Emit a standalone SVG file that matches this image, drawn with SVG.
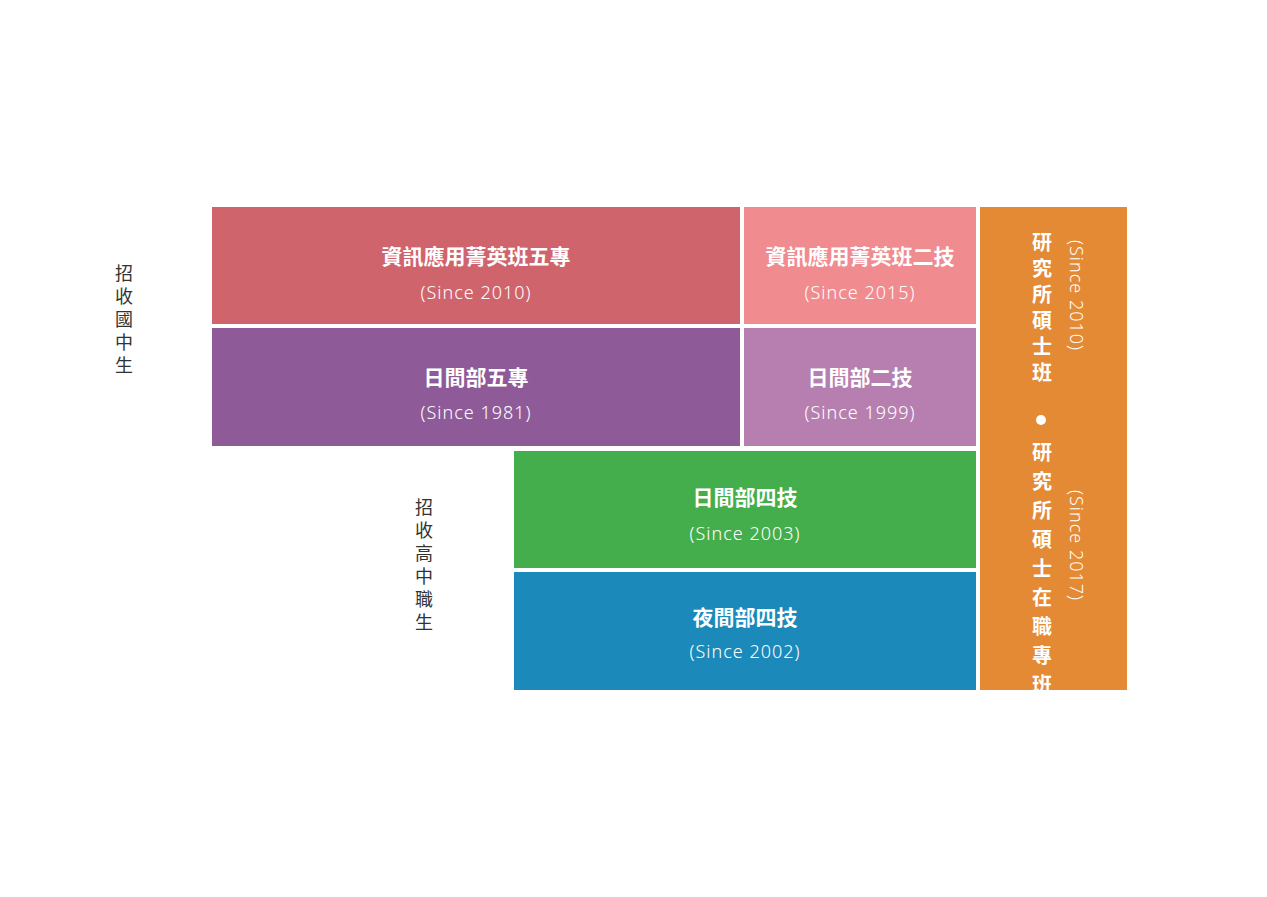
<svg xmlns="http://www.w3.org/2000/svg" width="1267" height="897" viewBox="0 0 1267 897">
<style>
.t{font-family:"Noto Sans CJK TC","Noto Sans",sans-serif;font-weight:700;font-size:21px;fill:#fff;text-anchor:middle}
.s{font-family:"Noto Sans","Noto Sans CJK TC",sans-serif;font-weight:300;font-size:18px;fill:#fff;text-anchor:middle;letter-spacing:1px}
.v{font-family:"Noto Sans CJK TC",sans-serif;font-size:18px;fill:#333;writing-mode:vertical-rl;letter-spacing:5px}
.vt{font-family:"Noto Sans CJK TC",sans-serif;font-weight:700;font-size:20px;fill:#fff;writing-mode:vertical-rl}
.vs{font-family:"Noto Sans","Noto Sans CJK TC",sans-serif;font-weight:300;font-size:18px;fill:#fff;writing-mode:vertical-rl;letter-spacing:1px}
</style>
<rect width="1267" height="897" fill="#fff"/>
<g id="label-junior"><text class="v" x="124" y="264">招收國中生</text></g>
<g id="label-senior"><text class="v" x="424" y="498">招收高中職生</text></g>
<g id="n1"><rect x="212" y="207" width="528" height="117" fill="#d0646d"/><text class="t" x="476" y="264">資訊應用菁英班五專</text><text class="s" x="476" y="299">(Since 2010)</text></g>
<g id="n2"><rect x="744" y="207" width="232" height="117" fill="#f08b8f"/><text class="t" x="860" y="264">資訊應用菁英班二技</text><text class="s" x="860" y="299">(Since 2015)</text></g>
<g id="n3"><rect x="212" y="328" width="528" height="118" fill="#8e5b98"/><text class="t" x="476" y="385">日間部五專</text><text class="s" x="476" y="419">(Since 1981)</text></g>
<g id="n4"><rect x="744" y="328" width="232" height="118" fill="#b77fb0"/><text class="t" x="860" y="385">日間部二技</text><text class="s" x="860" y="419">(Since 1999)</text></g>
<g id="n5"><rect x="514" y="451" width="462" height="117" fill="#45ae4c"/><text class="t" x="745" y="505">日間部四技</text><text class="s" x="745" y="540">(Since 2003)</text></g>
<g id="n6"><rect x="514" y="572" width="462" height="118" fill="#1b8aba"/><text class="t" x="745" y="625">夜間部四技</text><text class="s" x="745" y="658">(Since 2002)</text></g>
<g id="n7"><rect x="980" y="207" width="147" height="483" fill="#e48a34"/>
<text class="vt" x="1042" y="232" style="letter-spacing:6px">研究所碩士班</text>
<circle cx="1041" cy="420" r="5" fill="#fff"/>
<text class="vt" x="1042" y="442" style="letter-spacing:9px">研究所碩士在職專班</text>
<text class="vs" x="1077" y="240">(Since 2010)</text>
<text class="vs" x="1077" y="490">(Since 2017)</text>
</g>
<g id="connectors"></g>
</svg>
